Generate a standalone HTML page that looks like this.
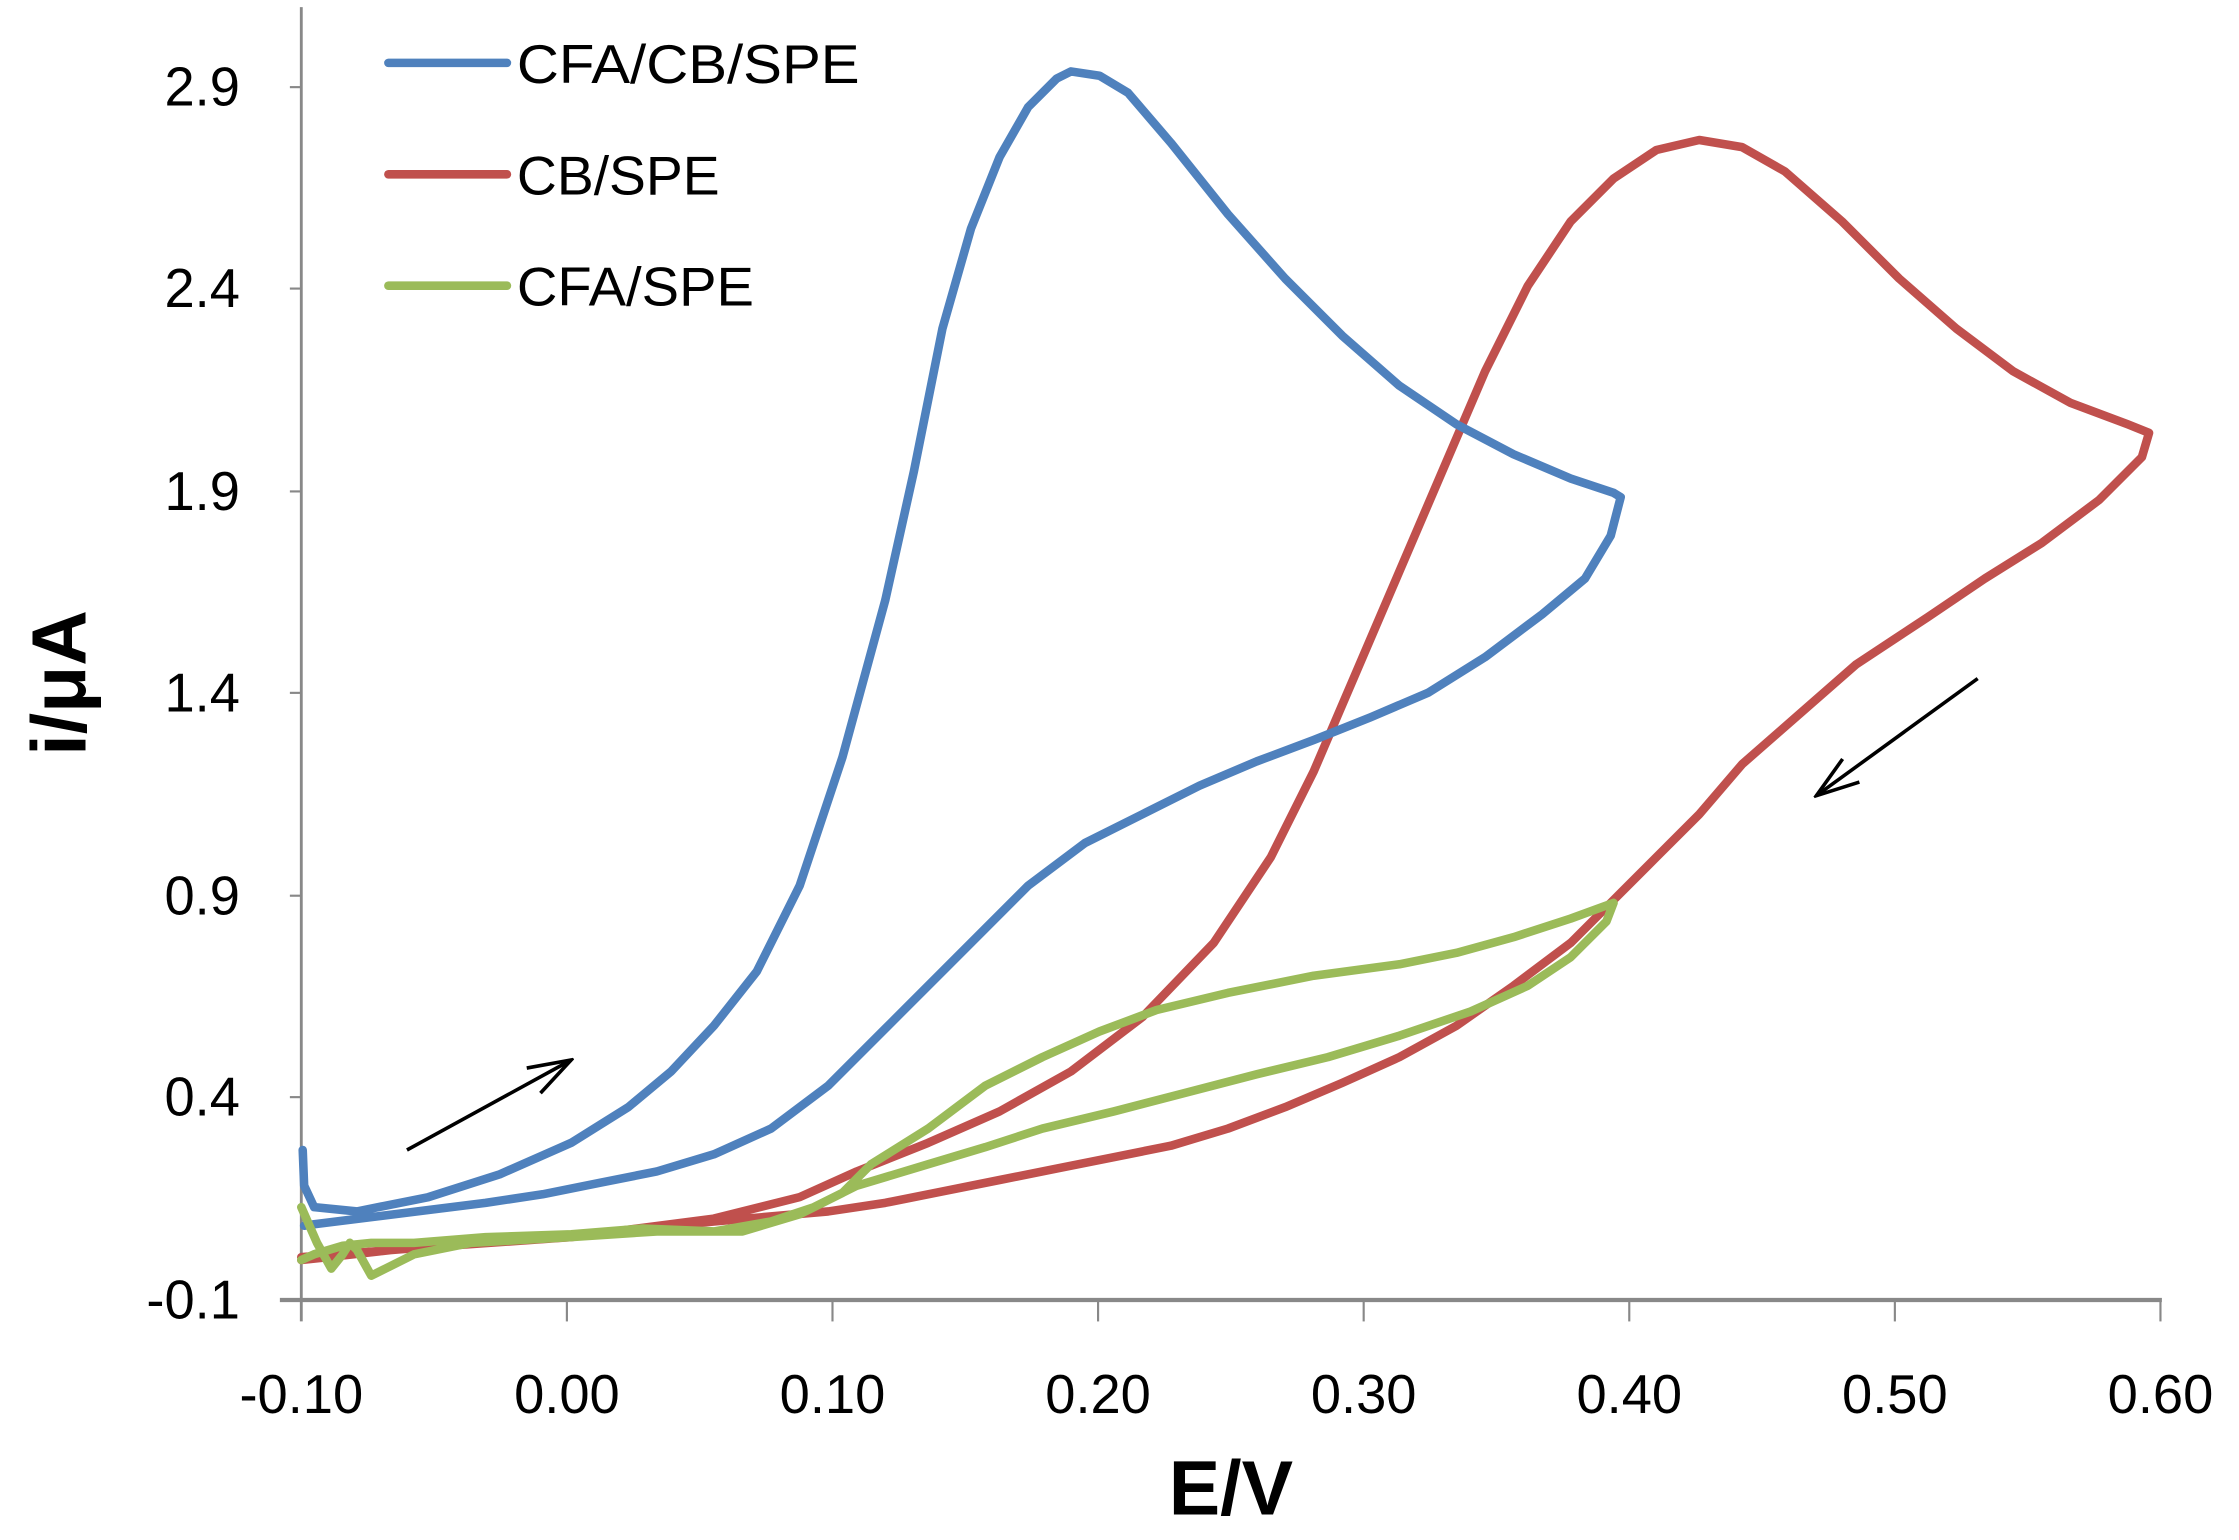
<!DOCTYPE html>
<html><head><style>html,body{margin:0;padding:0;background:#fff}svg{display:block}</style></head><body>
<svg width="2239" height="1540" viewBox="0 0 1568 1078" preserveAspectRatio="none" xmlns="http://www.w3.org/2000/svg" font-family="Liberation Sans, sans-serif">
<defs>
<marker id="a2" markerWidth="34" markerHeight="24" refX="32" refY="12" orient="auto" markerUnits="userSpaceOnUse"><path d="M2,2 L32,12 L2,22" fill="none" stroke="#000" stroke-width="2.5"/></marker></defs>
<line x1="211" y1="5" x2="211" y2="925" stroke="#888" stroke-width="2"/>
<line x1="196" y1="910" x2="1514" y2="910" stroke="#888" stroke-width="3"/>
<g stroke="#888" stroke-width="1.5">
<line x1="397" y1="910" x2="397" y2="925"/><line x1="583" y1="910" x2="583" y2="925"/><line x1="769" y1="910" x2="769" y2="925"/><line x1="955" y1="910" x2="955" y2="925"/><line x1="1141" y1="910" x2="1141" y2="925"/><line x1="1327" y1="910" x2="1327" y2="925"/><line x1="1513" y1="910" x2="1513" y2="925"/>
<line x1="203" y1="61" x2="211" y2="61"/><line x1="203" y1="202" x2="211" y2="202"/><line x1="203" y1="344" x2="211" y2="344"/><line x1="203" y1="485" x2="211" y2="485"/><line x1="203" y1="627" x2="211" y2="627"/><line x1="203" y1="768" x2="211" y2="768"/>
</g>
<g font-size="38" text-anchor="end" fill="#000">
<text x="168" y="74">2.9</text><text x="168" y="215">2.4</text><text x="168" y="357">1.9</text><text x="168" y="498">1.4</text><text x="168" y="640">0.9</text><text x="168" y="781">0.4</text><text x="168" y="923">-0.1</text>
</g>
<g font-size="38" text-anchor="middle">
<text x="211" y="989">-0.10</text><text x="397" y="989">0.00</text><text x="583" y="989">0.10</text><text x="769" y="989">0.20</text><text x="955" y="989">0.30</text><text x="1141" y="989">0.40</text><text x="1327" y="989">0.50</text><text x="1513" y="989">0.60</text>
</g>
<text x="862" y="1060" font-size="54" font-weight="bold" text-anchor="middle">E/V</text>
<text transform="translate(60,478) rotate(-90)" font-size="54" font-weight="bold" text-anchor="middle">i/μA</text>
<g fill="none" stroke-width="6" stroke-linejoin="round" stroke-linecap="round">
<polyline stroke="#c0504d" points="211,880 300,873 400,866 500,853 560,838 600,820 650,800 700,778 750,750 800,712 850,660 890,600 920,540 950,470 980,400 1010,330 1040,260 1070,200 1100,155 1130,125 1160,105 1190,98 1220,103 1250,120 1290,155 1330,195 1370,230 1410,260 1450,282 1490,297 1505,303 1500,320 1470,350 1430,380 1390,405 1350,432 1300,465 1260,500 1220,535 1190,570 1160,600 1130,630 1100,660 1060,690 1020,718 980,740 940,758 900,775 860,790 820,802 780,810 740,818 700,826 660,834 620,842 580,848 500,855 400,865 300,872 230,880 211,882"/>
<polyline stroke="#4f81bd" points="212,805 213,830 220,845 250,848 300,838 350,822 400,800 440,775 470,750 500,718 530,680 560,620 590,530 620,420 640,330 660,230 680,160 700,110 720,75 740,55 750,50 770,53 790,65 820,100 860,150 900,195 940,235 980,270 1020,297 1060,318 1100,335 1130,345 1135,348 1128,375 1110,405 1080,430 1040,460 1000,485 960,502 920,518 880,533 840,550 800,570 760,590 720,620 690,650 660,680 620,720 580,760 540,790 500,808 460,820 420,828 380,836 340,842 300,847 260,852 220,857 213,858"/>
<polyline stroke="#9bbb59" points="211,845 222,870 232,888 240,878 245,870 250,875 260,893 270,888 290,878 330,870 400,866 460,862 500,862 520,862 560,850 590,835 610,815 650,790 690,760 730,740 770,722 810,707 860,695 920,683 980,675 1020,667 1060,656 1100,643 1130,632 1125,645 1100,670 1070,690 1030,708 980,725 930,740 880,752 830,765 780,778 730,790 690,803 650,815 600,830 570,845 540,855 500,862 450,860 400,864 340,866 290,870 260,870 240,872 220,878 211,882"/>
<line x1="272" y1="44" x2="355" y2="44" stroke="#4f81bd"/>
<line x1="272" y1="122" x2="355" y2="122" stroke="#c0504d"/>
<line x1="272" y1="200" x2="355" y2="200" stroke="#9bbb59"/>
</g>
<g font-size="38">
<text x="362" y="58" textLength="240" lengthAdjust="spacingAndGlyphs">CFA/CB/SPE</text><text x="362" y="136" textLength="142" lengthAdjust="spacingAndGlyphs">CB/SPE</text><text x="362" y="214" textLength="166" lengthAdjust="spacingAndGlyphs">CFA/SPE</text>
</g>
<line x1="285" y1="805" x2="400" y2="742" stroke="#000" stroke-width="2.5" marker-end="url(#a2)"/>
<line x1="1385" y1="475" x2="1272" y2="557" stroke="#000" stroke-width="2.5" marker-end="url(#a2)"/>
</svg>
</body></html>
